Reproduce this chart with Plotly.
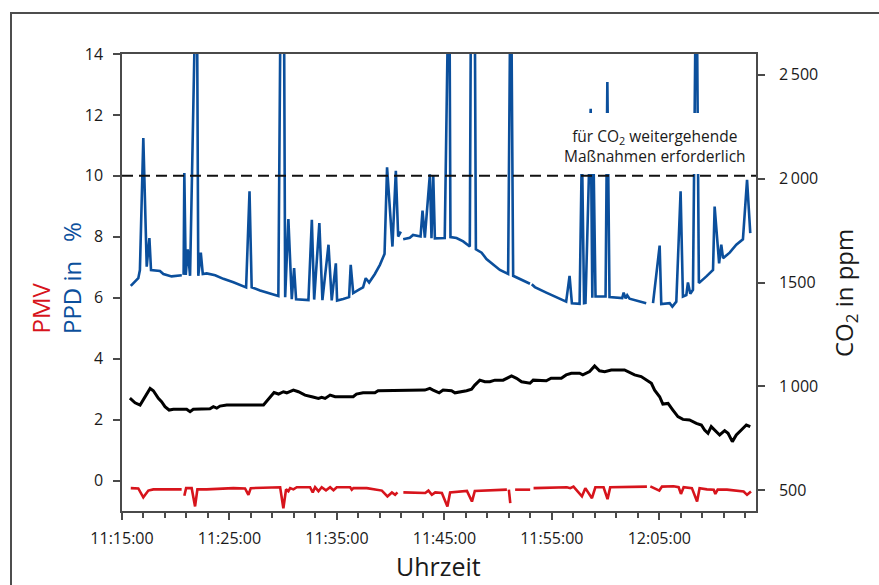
import plotly.graph_objects as go

DAY = "2024-01-01 "

# PPD in % (left axis), None = gap in the record
ppd_time = ["11:15:49","11:16:31","11:16:40","11:16:59","11:17:18","11:17:33","11:17:42","11:18:32","11:18:51",
            "11:19:37","11:20:34","11:20:40","11:20:44","11:20:48","11:20:56","11:21:07","11:21:20","11:21:42",
            "11:21:57","11:22:06","11:22:20","11:22:31","11:22:53","11:23:40","11:24:26","11:25:22","11:25:59",
            "11:26:33","11:26:52","11:27:04","11:27:51","11:28:47","11:29:33","11:29:48","11:30:03","11:30:11",
            "11:30:29","11:30:48","11:31:01","11:31:12","11:32:21","11:32:40","11:32:53","11:33:22","11:33:39",
            "11:34:13","11:34:31","11:34:54","11:35:01","11:35:35","11:36:08","11:36:17","11:36:31","11:37:08",
            "11:37:26","11:37:41","11:38:00","11:38:32","11:39:00","11:39:18","11:39:26","11:39:40","11:40:10",
            "11:40:29","11:40:42","11:40:57","11:41:03","11:41:10","11:41:47","11:42:05","11:42:47","11:42:58",
            "11:43:11","11:43:39","11:43:48","11:43:58","11:44:07","11:45:02","11:45:12","11:45:27","11:45:34",
            "11:46:08","11:46:45","11:47:22","11:47:30","11:47:48","11:47:56","11:48:28","11:48:55","11:49:32",
            "11:50:10","11:50:56","11:51:11","11:51:24","11:52:02","11:52:48","11:52:58","11:53:02","11:53:08",
            "11:53:25","11:54:29",
            "11:55:25","11:56:20","11:56:39","11:56:52","11:57:35","11:57:48","11:58:00","11:58:08","11:58:37",
            "11:58:46","11:58:53","11:59:04","12:00:00","12:00:10","12:00:22","12:01:33","12:01:41","12:01:52",
            "12:02:01","12:02:14","12:03:47","12:04:00","12:04:25","12:05:02","12:05:11","12:05:58","12:06:13",
            "12:06:35","12:06:59","12:07:12","12:07:31","12:07:40","12:07:53","12:08:08","12:08:27","12:08:41",
            "12:09:23","12:10:00","12:10:09","12:10:34","12:10:46","12:10:56","12:11:33","12:12:10","12:12:47",
            "12:13:10","12:13:28"]
ppd_value = [6.39,6.64,6.91,11.24,7.02,7.96,6.91,6.88,6.78,
             6.70,6.74,None,6.75,10.09,6.75,7.59,6.72,18,
             18,6.72,7.48,6.78,6.80,6.74,6.62,6.51,6.42,
             6.34,9.49,6.34,6.24,6.15,6.06,18,18,6.02,
             8.58,5.95,6.97,5.95,5.92,8.56,5.94,8.45,5.92,
             7.74,5.91,7.13,5.91,5.96,6.02,7.08,6.15,6.28,
             6.34,6.64,6.50,6.78,7.08,7.33,7.44,10.28,7.68,
             10.17,8.01,8.17,None,7.92,7.97,8.06,8.01,8.86,
             7.97,10.05,7.95,10.00,7.95,7.96,18,18,7.99,
             7.96,7.85,7.68,18,18,7.59,7.48,7.27,7.08,
             6.91,6.78,18,6.72,6.61,6.48,6.46,None,6.44,
             6.35,6.17,
             6.02,5.87,6.72,5.82,5.80,11.0,5.82,5.83,12.2,
             6.00,10.5,6.04,6.04,13.08,6.02,5.99,6.17,5.98,
             6.08,5.97,5.82,None,5.82,7.71,5.79,5.82,5.71,
             5.87,9.49,6.04,6.09,6.50,6.13,6.26,18,6.48,
             6.70,6.91,8.99,7.13,7.74,7.30,7.48,7.74,7.92,
             9.87,8.12]

# CO2 in ppm (right axis)
co2_time = ["11:15:44","11:16:13","11:16:41","11:17:08","11:17:37","11:17:55","11:18:23","11:18:41","11:19:00",
            "11:19:23","11:19:47","11:21:01","11:21:20","11:21:38","11:23:11","11:23:30","11:23:49","11:24:07",
            "11:24:45","11:28:10","11:28:38","11:29:09","11:29:34","11:30:01","11:30:20","11:30:57","11:31:25",
            "11:32:02","11:32:40","11:33:17","11:33:35","11:33:54","11:34:22","11:34:50","11:35:16","11:36:31",
            "11:36:49","11:37:26","11:38:32","11:38:50","11:43:11","11:43:39","11:43:57","11:44:31","11:44:53",
            "11:45:40","11:45:59","11:46:36","11:47:04","11:47:32","11:47:50","11:48:18","11:48:46","11:49:14",
            "11:49:42","11:50:28","11:50:47","11:51:15","11:51:43","11:52:11","11:52:58","11:53:16","11:54:29",
            "11:54:56","11:55:53","11:56:20","11:56:49","11:57:35","11:57:53","11:58:12","11:58:31","11:58:59",
            "11:59:26","11:59:55","12:00:32","12:01:46","12:02:14","12:02:42","12:03:19","12:03:47","12:04:16",
            "12:04:34","12:05:02","12:05:20","12:05:49","12:06:16","12:06:44","12:07:12","12:07:49","12:08:27",
            "12:08:55","12:09:13","12:09:32","12:09:50","12:10:09","12:10:37","12:11:05","12:11:24","12:11:48",
            "12:12:10","12:12:38","12:13:06","12:13:28"]
co2_value = [943,921,910,950,990,979,942,926,902,
             886,890,890,878,890,892,902,895,905,
             910,910,937,970,963,974,969,982,974,
             958,950,942,947,942,958,950,950,950,
             963,969,969,979,982,990,982,969,982,
             979,969,974,979,986,1006,1030,1022,1022,
             1030,1030,1039,1050,1039,1022,1015,1030,1027,
             1039,1039,1055,1063,1063,1055,1063,1071,1098,
             1075,1071,1079,1079,1066,1055,1047,1031,1015,
             982,950,915,918,886,854,841,838,822,
             814,790,774,806,790,766,787,774,734,
             766,790,814,806]

# PMV (left axis)
pmv_time = ["11:15:49","11:16:31","11:16:59","11:17:27","11:17:55","11:20:33","11:20:40","11:20:48","11:20:58",
            "11:21:29","11:21:48","11:22:01","11:22:53","11:25:22","11:26:27","11:26:46","11:26:59","11:29:43",
            "11:30:01","11:30:16","11:30:29","11:30:39","11:30:57","11:31:16","11:32:30","11:32:45","11:32:58",
            "11:33:17","11:33:35","11:33:59","11:34:22","11:34:41","11:34:59","11:36:14","11:36:23","11:36:32",
            "11:37:47","11:39:11","11:39:42","11:40:07","11:40:25","11:40:38","11:40:50","11:41:11","11:42:45",
            "11:43:13","11:43:31","11:43:50","11:44:09","11:44:46","11:45:17","11:45:32","11:47:06","11:47:34",
            "11:47:50","11:50:12","11:50:49","11:50:55","11:51:00","11:51:08","11:51:20","11:51:35","11:52:59",
            "11:53:05","11:53:18","11:56:24","11:56:43","11:57:01","11:57:48","11:58:07","11:58:44","11:59:03",
            "11:59:49","12:00:11","12:00:26","12:02:18","12:03:51","12:03:57","12:04:10","12:05:00","12:05:15",
            "12:06:20","12:06:48","12:07:01","12:07:16","12:08:02","12:08:31","12:08:45","12:09:26","12:10:04",
            "12:10:13","12:10:26","12:11:18","12:12:51","12:13:10","12:13:32"]
pmv_value = [-0.25,-0.26,-0.55,-0.33,-0.29,-0.29,None,-0.50,-0.25,
             -0.25,-0.85,-0.29,-0.29,-0.25,-0.26,-0.47,-0.25,-0.22,
             -0.91,-0.29,-0.35,-0.25,-0.29,-0.22,-0.22,-0.39,-0.22,
             -0.35,-0.22,-0.32,-0.22,-0.32,-0.22,-0.22,-0.30,-0.25,
             -0.25,-0.33,-0.52,-0.39,-0.47,-0.39,None,-0.39,-0.39,
             -0.41,-0.33,-0.47,-0.39,-0.41,-0.85,-0.39,-0.34,-0.69,
             -0.34,-0.30,-0.30,None,-0.30,-0.74,None,-0.30,-0.30,
             None,-0.25,-0.22,-0.25,-0.20,-0.52,-0.25,-0.58,-0.22,
             -0.22,-0.61,-0.22,-0.22,-0.20,None,-0.19,-0.33,-0.20,
             -0.19,-0.22,-0.44,-0.22,-0.25,-0.69,-0.25,-0.29,-0.30,
             -0.44,-0.30,-0.30,-0.36,-0.47,-0.36]

left_ticks = [0, 2, 4, 6, 8, 10, 12, 14]
right_ticks = [500, 1000, 1500, 2000, 2500]
right_ticktext = ["500", "1\u2009000", "1500", "2\u2009000", "2\u2009500"]
co2_limit_ppm = 2000
ppd_limit = 10

BLUE = "#0b4f9c"
RED = "#d7141c"
AXC = "#4a4a4a"
FONT = "Open Sans"

W, H = 879, 585
L, R, T, B = 122, 756, 54, 511


def px(x):
    return (x - L) / (R - L)


def py(y):
    return (B - y) / (B - T)


def ts(lst):
    return [DAY + t for t in lst]


fig = go.Figure()
fig.add_trace(go.Scatter(x=ts(ppd_time), y=ppd_value, mode="lines",
                         line=dict(color=BLUE, width=2.6), connectgaps=False))
fig.add_trace(go.Scatter(x=ts(co2_time), y=co2_value, mode="lines", yaxis="y2",
                         line=dict(color="#000000", width=3), connectgaps=False))
fig.add_trace(go.Scatter(x=ts(pmv_time), y=pmv_value, mode="lines",
                         line=dict(color=RED, width=2.6), connectgaps=False))

tickfont = dict(family=FONT, size=16, color="#1a1a1a")

fig.update_layout(
    width=W, height=H,
    margin=dict(l=L, r=W - R, t=T, b=H - B),
    paper_bgcolor="white", plot_bgcolor="white",
    showlegend=False,
    xaxis=dict(
        type="date",
        range=[DAY + "11:15:00", DAY + "12:14:00"],
        tick0=DAY + "11:15:00", dtick=600000, tickformat="%H:%M:%S",
        ticks="outside", ticklen=7, tickwidth=1.5, tickcolor=AXC,
        showline=True, linecolor=AXC, linewidth=1.5, mirror=True,
        showgrid=False, zeroline=False, tickfont=tickfont,
        ticklabelstandoff=5,
        minor=dict(dtick=120000, tick0=DAY + "11:15:00", ticks="outside",
                   ticklen=5, tickwidth=1.5, tickcolor=AXC, showgrid=False),
    ),
    yaxis=dict(
        range=[-1, 14], tickvals=left_ticks,
        ticks="outside", ticklen=7, tickwidth=1.5, tickcolor=AXC,
        showline=True, linecolor=AXC, linewidth=1.5,
        showgrid=False, zeroline=False, tickfont=tickfont,
        ticklabelstandoff=7,
    ),
    yaxis2=dict(
        range=[400, 2600], overlaying="y", side="right",
        tickvals=right_ticks, ticktext=right_ticktext,
        ticks="outside", ticklen=7, tickwidth=1.5, tickcolor=AXC,
        showline=True, linecolor=AXC, linewidth=1.5,
        showgrid=False, zeroline=False, tickfont=tickfont,
        ticklabelstandoff=11,
    ),
)

# limit line (PPD 10 % / CO2 2000 ppm)
fig.add_shape(type="line", xref="paper", x0=0, x1=1, yref="y", y0=ppd_limit, y1=ppd_limit,
              line=dict(color="#111111", width=2, dash="11px,6px"), layer="above")
# white box behind the note
fig.add_shape(type="rect", xref="paper", yref="paper", x0=px(556), x1=px(754), y0=py(174), y1=py(113),
              fillcolor="white", line=dict(width=0), layer="above")
# outer frame
fig.add_shape(type="rect", xref="paper", yref="paper", x0=px(11), x1=px(900), y0=py(600), y1=py(13),
              line=dict(color="#4d4d4d", width=2), fillcolor="rgba(0,0,0,0)", layer="below")

fig.add_annotation(xref="paper", yref="paper", x=px(655), y=py(146),
                   text="für CO<sub>2</sub> weitergehende<br>Maßnahmen erforderlich",
                   showarrow=False, xanchor="center", yanchor="middle", align="center",
                   font=dict(family=FONT, size=15.5, color="#1a1a1a"))

titlefont = dict(family=FONT, size=25, color="#1a1a1a")
fig.add_annotation(xref="paper", yref="paper", x=px(438), y=py(566), text="Uhrzeit",
                   showarrow=False, xanchor="center", yanchor="middle", font=titlefont)
fig.add_annotation(xref="paper", yref="paper", x=px(845), y=py(293), text="CO<sub>2</sub> in ppm",
                   textangle=-90, showarrow=False, xanchor="center", yanchor="middle",
                   font=dict(family=FONT, size=24, color="#1a1a1a"))
fig.add_annotation(xref="paper", yref="paper", x=px(40), y=py(336), text="PMV",
                   textangle=-90, showarrow=False, xanchor="center", yanchor="bottom",
                   font=dict(family=FONT, size=24, color=RED))
fig.add_annotation(xref="paper", yref="paper", x=px(71), y=py(336), text="PPD in\u00a0\u00a0\u00a0%",
                   textangle=-90, showarrow=False, xanchor="center", yanchor="bottom",
                   font=dict(family=FONT, size=24, color=BLUE))

fig.write_html("out.html")
